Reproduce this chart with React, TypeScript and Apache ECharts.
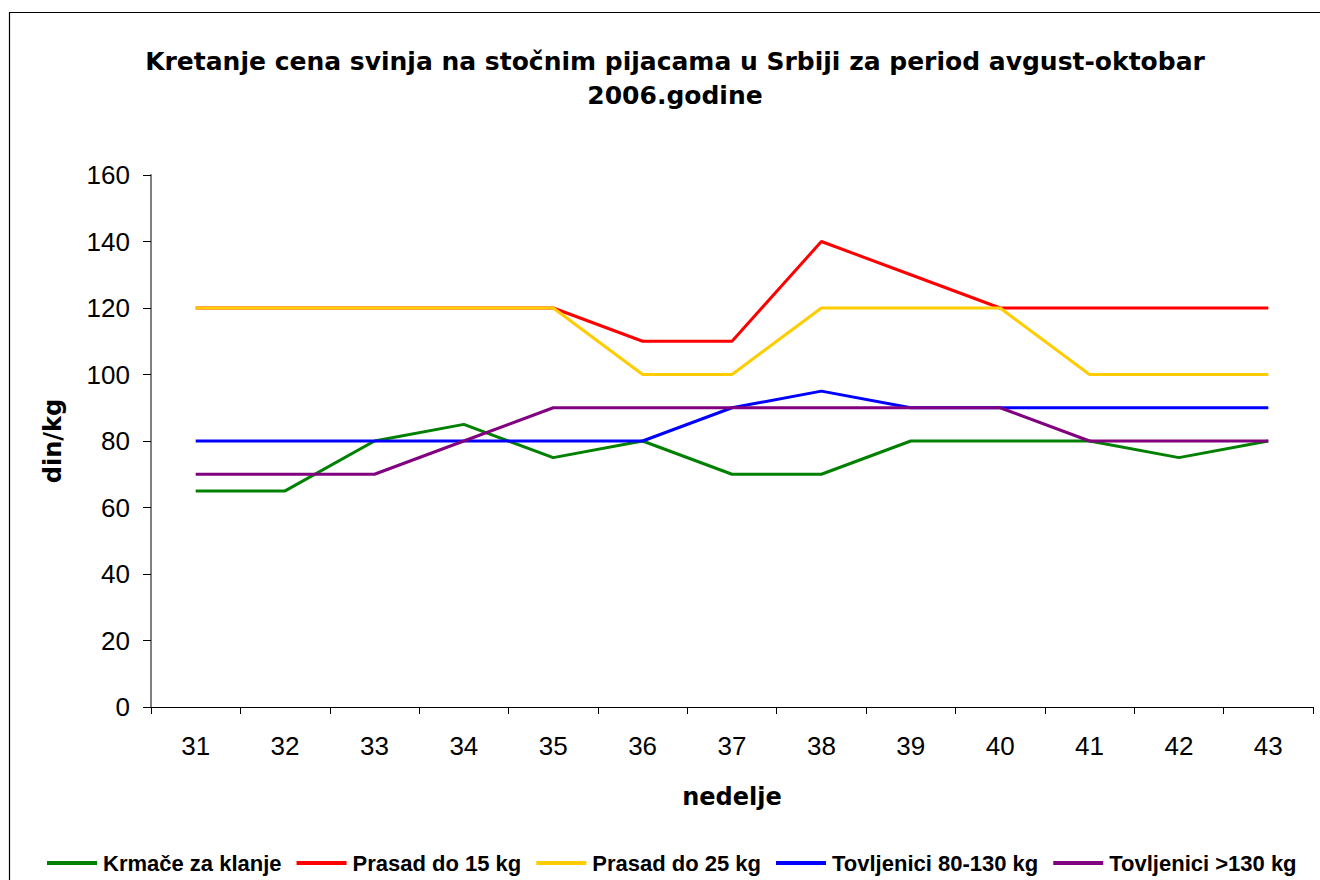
import React, { useEffect, useRef } from "react";
import * as echarts from "echarts";

const weeks = ["31", "32", "33", "34", "35", "36", "37", "38", "39", "40", "41", "42", "43"];
const krmace = [65, 65, 80, 85, 75, 80, 70, 70, 80, 80, 80, 75, 80];
const prasad15 = [120, 120, 120, 120, 120, 110, 110, 140, 130, 120, 120, 120, 120];
const prasad25 = [120, 120, 120, 120, 120, 100, 100, 120, 120, 120, 100, 100, 100];
const tov80 = [80, 80, 80, 80, 80, 80, 90, 95, 90, 90, 90, 90, 90];
const tov130 = [70, 70, 70, 80, 90, 90, 90, 90, 90, 90, 80, 80, 80];

const seriesNames = ["Krmače za klanje", "Prasad do 15 kg", "Prasad do 25 kg", "Tovljenici 80-130 kg", "Tovljenici >130 kg"];
const seriesData = [krmace, prasad15, prasad25, tov80, tov130];
const colors = ["#008000", "#FF0000", "#FFCC00", "#0000FF", "#800080"];

const boldFont = "DejaVu Sans, Liberation Sans, Arial";
const plainFont = "Liberation Sans, Arial";

export default function App() {
  const ref = useRef<HTMLDivElement>(null);
  useEffect(() => {
    const chart = echarts.init(ref.current!, null, { renderer: "svg" });
    chart.setOption({
      animation: false,
      backgroundColor: "#fff",
      title: {
        text: "Kretanje cena svinja na stočnim pijacama u Srbiji za period avgust-oktobar\n2006.godine",
        left: 670,
        textAlign: "center",
        top: 39,
        textStyle: { fontFamily: boldFont, fontWeight: "bold", fontSize: 25, lineHeight: 34, color: "#000" },
      },
      graphic: [
        { type: "rect", shape: { x: 9.5, y: 12.5, width: 1400, height: 1000 }, style: { fill: "none", stroke: "#000", lineWidth: 1.2 }, silent: true },
      ],
      legend: {
        top: 847,
        left: 42,
        itemWidth: 50,
        itemHeight: 4,
        itemGap: 15,
        icon: "rect",
        textStyle: { fontFamily: plainFont, fontWeight: "bold", fontSize: 22, color: "#000", padding: [0, 0, 0, 1] },
        data: seriesNames,
      },
      grid: { left: 151, right: 7, top: 175, bottom: 173 },
      xAxis: {
        type: "category",
        data: weeks,
        boundaryGap: true,
        name: "nedelje",
        nameLocation: "middle",
        nameGap: 78,
        nameTextStyle: { fontFamily: boldFont, fontWeight: "bold", fontSize: 24, color: "#000" },
        axisLine: { lineStyle: { color: "#000", width: 1 } },
        axisTick: { show: true, length: 7, lineStyle: { color: "#000" } },
        axisLabel: { fontFamily: plainFont, fontSize: 26, color: "#000", margin: 26 },
      },
      yAxis: {
        type: "value",
        min: 0,
        max: 160,
        interval: 20,
        name: "din/kg",
        nameLocation: "middle",
        nameGap: 86,
        nameRotate: 90,
        nameTextStyle: { fontFamily: boldFont, fontWeight: "bold", fontSize: 24, color: "#000" },
        axisLine: { show: true, lineStyle: { color: "#808080", width: 2 } },
        axisTick: { show: true, length: 8, lineStyle: { color: "#000" } },
        axisLabel: { fontFamily: plainFont, fontSize: 26, color: "#000", margin: 21 },
        splitLine: { show: false },
      },
      series: seriesNames.map((n, i) => ({
        name: n,
        type: "line",
        data: seriesData[i],
        color: colors[i],
        lineStyle: { width: 3, color: colors[i] },
        symbol: "none",
        showSymbol: false,
      })),
    });
    return () => chart.dispose();
  }, []);
  return <div ref={ref} style={{ position: "fixed", left: 0, top: 0, width: 1320, height: 880 }} />;
}
